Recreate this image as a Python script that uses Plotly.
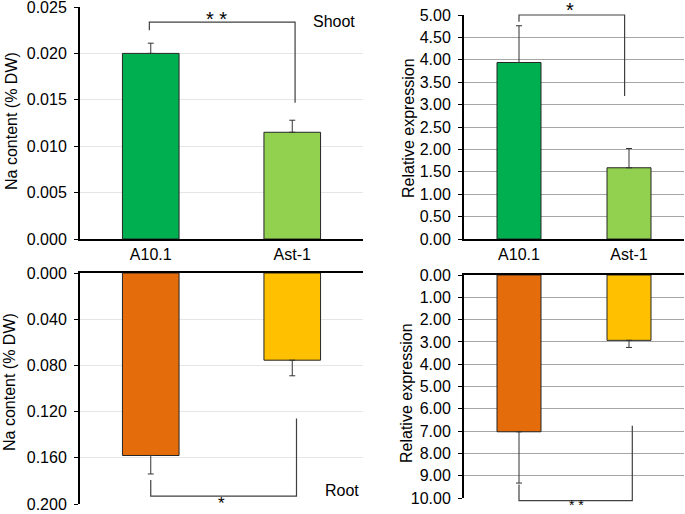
import plotly.graph_objects as go

# ---------------- data ----------------
genotypes = ["A10.1", "Ast-1"]

shoot_na = [0.0200, 0.0115]
shoot_na_err = [0.0011, 0.0013]

shoot_expr = [3.94, 1.59]
shoot_expr_err = [0.82, 0.43]

root_na = [0.158, 0.0755]
root_na_err = [0.016, 0.0135]

root_expr = [7.03, 2.93]
root_expr_err = [2.30, 0.32]

shoot_na_ticks = [0.0, 0.005, 0.010, 0.015, 0.020, 0.025]
shoot_expr_ticks = [0.0, 0.5, 1.0, 1.5, 2.0, 2.5, 3.0, 3.5, 4.0, 4.5, 5.0]
root_na_ticks = [0.0, 0.04, 0.08, 0.12, 0.16, 0.20]
root_expr_ticks = [0, 1, 2, 3, 4, 5, 6, 7, 8, 9, 10]

shoot_colors = ["#00B050", "#92D050"]
root_colors = ["#E46C0A", "#FFC000"]

# ---------------- layout helpers ----------------
W, H = 685, 514
FONT = "Liberation Sans, Arial, sans-serif"


def dom_x(a, b):
    return [a / W, b / W]


def dom_y(top, bottom):
    return [1 - bottom / H, 1 - top / H]


panels = [
    dict(xk="xaxis", yk="yaxis", xd=(80, 363), yd=(7, 239), rng=[0, 0.025],
         ticks=shoot_na_ticks, fmt=".3f", grid="#E6E6E6",
         title="Na content (% DW)", tpos=(11, 121)),
    dict(xk="xaxis2", yk="yaxis2", xd=(464, 684), yd=(15, 239), rng=[0, 5],
         ticks=shoot_expr_ticks, fmt=".2f", grid="#A6A6A6",
         title="Relative expression", tpos=(408, 128)),
    dict(xk="xaxis3", yk="yaxis3", xd=(80, 363), yd=(273, 504), rng=[0.2, 0],
         ticks=root_na_ticks, fmt=".3f", grid="#E6E6E6",
         title="Na content (% DW)", tpos=(9, 382)),
    dict(xk="xaxis4", yk="yaxis4", xd=(464, 684), yd=(275, 498), rng=[10, 0],
         ticks=root_expr_ticks, fmt=".2f", grid="#A6A6A6",
         title="Relative expression", tpos=(406, 393)),
]

series = [
    (shoot_na, shoot_na_err, shoot_colors),
    (shoot_expr, shoot_expr_err, shoot_colors),
    (root_na, root_na_err, root_colors),
    (root_expr, root_expr_err, root_colors),
]

fig = go.Figure()

for i, (vals, errs, cols) in enumerate(series):
    n = "" if i == 0 else str(i + 1)
    fig.add_trace(go.Bar(
        x=genotypes, y=vals, width=0.4,
        marker=dict(color=cols, line=dict(color="#262626", width=1)),
        error_y=dict(type="data", symmetric=False, array=errs, arrayminus=[0, 0],
                     color="#333333", thickness=1, width=3),
        xaxis="x" + n, yaxis="y" + n, showlegend=False, hoverinfo="skip",
    ))

layout = dict(
    width=W, height=H, margin=dict(l=0, r=0, t=0, b=0, autoexpand=False),
    paper_bgcolor="white", plot_bgcolor="white",
    font=dict(family=FONT, size=16, color="#000000"),
    showlegend=False,
)

for i, p in enumerate(panels):
    n = "" if i == 0 else str(i + 1)
    top_panel = i < 2
    layout[p["xk"]] = dict(
        domain=dom_x(*p["xd"]), anchor="y" + n, type="category",
        showline=True, linecolor="#000000", linewidth=2, ticks="",
        showticklabels=top_panel, side="bottom" if top_panel else "top",
        tickfont=dict(size=16, color="#000000"), showgrid=False, zeroline=False,
        fixedrange=True, automargin=False,
    )
    layout[p["yk"]] = dict(
        domain=dom_y(*p["yd"]), anchor="x" + n, range=p["rng"],
        tickmode="array", tickvals=p["ticks"],
        ticktext=[format(v, p["fmt"]) for v in p["ticks"]],
        showgrid=True, gridcolor=p["grid"], gridwidth=1,
        showline=True, linecolor="#000000", linewidth=2, ticks="outside", ticklen=4,
        tickcolor="#000000", tickfont=dict(size=16, color="#000000"), zeroline=False,
        ticklabelstandoff=4, ticklabeloverflow="allow",
        fixedrange=True, automargin=False,
    )

fig.update_layout(**layout)

# ---------------- y-axis titles ----------------
for p in panels:
    x, y = p["tpos"]
    fig.add_annotation(text=p["title"], x=x / W, y=1 - y / H, xref="paper", yref="paper",
                       showarrow=False, textangle=-90, xanchor="center", yanchor="middle",
                       font=dict(size=16, color="#000000", family=FONT))

# ---------------- significance brackets ----------------
# (panel index, left x (category units), right x, bar level, left leg end, right leg end)
brackets = [
    (0, -0.01, 1.02, 0.02336, 0.0225, 0.01467),
    (1, 0.0, 0.96, 5.0, 4.85, 3.19),
    (2, 0.0, 1.03, 0.1931, 0.1793, 0.1259),
    (3, 0.0, 1.03, 10.12, 9.39, 6.76),
]


def yfrac(p, v):
    r0, r1 = p["rng"]
    return (v - r0) / (r1 - r0)


def xfrac(c):
    return (c + 0.5) / 2.0


for pi, xl, xr, yb, yl, yr in brackets:
    p = panels[pi]
    n = "" if pi == 0 else str(pi + 1)
    xref = "x" + n + " domain"
    yref = "y" + n + " domain"
    pts = [(xfrac(xl), yfrac(p, yl)), (xfrac(xl), yfrac(p, yb)),
           (xfrac(xr), yfrac(p, yb)), (xfrac(xr), yfrac(p, yr))]
    path = "M " + " L ".join(f"{a:.5f},{b:.5f}" for a, b in pts)
    fig.add_shape(type="path", path=path, xref=xref, yref=yref,
                  line=dict(color="#404040", width=1.2))

# ---------------- text labels ----------------
# (text, x px, y px, size, yanchor)
texts = [
    ("* *", 216, 19, 20, "middle"),
    ("*", 569.5, 9.5, 20, "middle"),
    ("*", 221, 514, 17, "bottom"),
    ("* *", 576, 514, 14, "bottom"),
    ("Shoot", 334, 22, 16, "middle"),
    ("Root", 342, 490, 16, "middle"),
]
for t, x, y, s, ya in texts:
    fig.add_annotation(text=t, x=x / W, y=1 - y / H, xref="paper", yref="paper",
                       showarrow=False, xanchor="center", yanchor=ya, borderpad=0,
                       font=dict(size=s, color="#000000", family=FONT))

fig.write_html("out.html", config={"displayModeBar": False},
               post_script="document.body.style.margin='0px';")
